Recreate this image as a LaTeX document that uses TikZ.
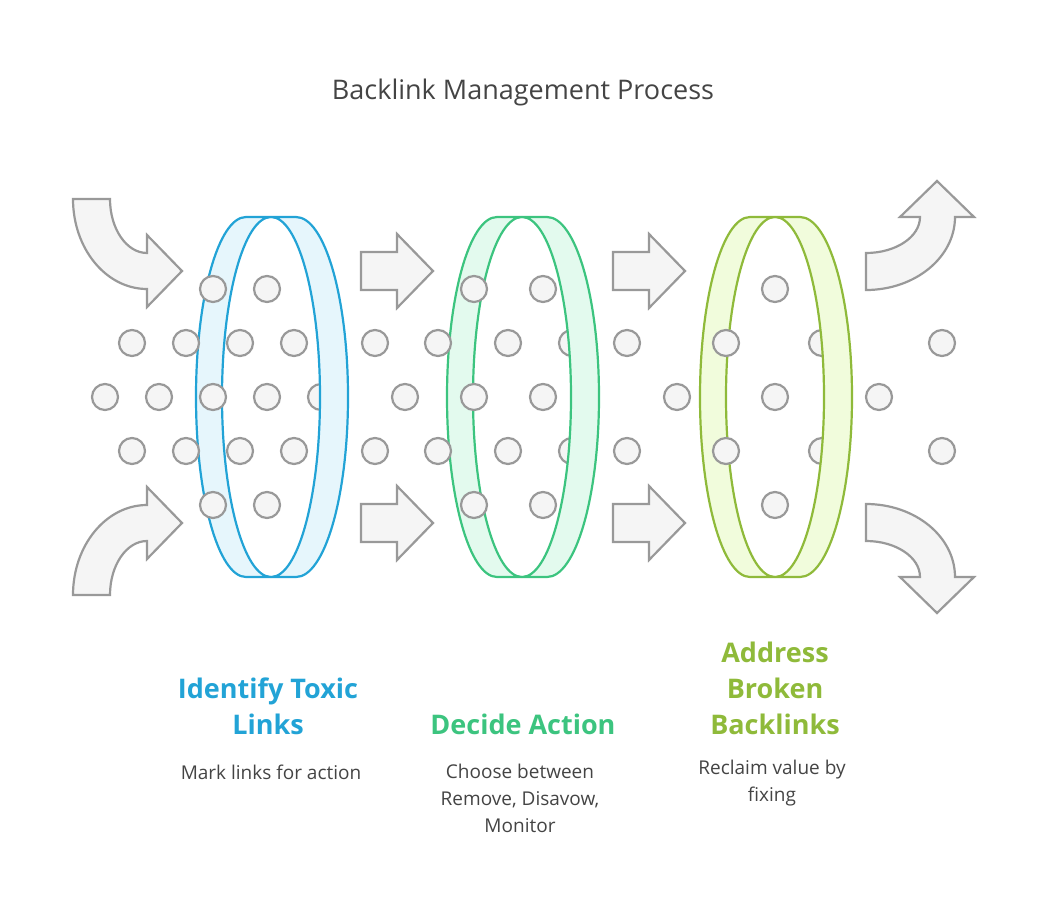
\documentclass[tikz,border=0pt]{standalone}
\usepackage{fontspec}
\setmainfont{Open Sans}
\usetikzlibrary{positioning}
\definecolor{toxicblue}{HTML}{22A3D6}
\definecolor{toxicfill}{HTML}{E6F6FC}
\definecolor{actgreen}{HTML}{3CC47F}
\definecolor{actfill}{HTML}{E3FAEE}
\definecolor{fixlime}{HTML}{8FBA3A}
\definecolor{fixfill}{HTML}{F1FCDC}
\definecolor{dotgray}{HTML}{999999}
\definecolor{dotfill}{HTML}{F5F5F5}
\definecolor{txtgray}{HTML}{444444}

% left and right halves of a ring, centre x #1
\newcommand{\ringleft}[3]{%
  \filldraw[ring,draw=#2,fill=#3] (#1-25,217) arc[start angle=270,end angle=90,x radius=50,y radius=180]
    -- (#1,577) arc[start angle=90,end angle=270,x radius=49,y radius=180] -- cycle;}
\newcommand{\ringright}[3]{%
  \filldraw[ring,draw=#2,fill=#3] (#1+25,217) arc[start angle=270,end angle=450,x radius=52,y radius=180]
    -- (#1,577) arc[start angle=90,end angle=-90,x radius=49,y radius=180] -- cycle;}

\begin{document}
\begin{tikzpicture}[x=1pt,y=-1pt,
    ring/.style={line width=2.2pt},
    dot/.style={draw=dotgray,fill=dotfill,line width=2.2pt},
    flow/.style={draw=dotgray,fill=dotfill,line width=2.2pt,line join=miter},
    head/.style={font=\fontsize{27}{36}\selectfont\bfseries,align=center},
    note/.style={font=\fontsize{19}{27}\selectfont,text=txtgray,align=center}]
  \useasboundingbox (0,0) rectangle (1047,921);

  \node[font=\fontsize{27}{32}\selectfont,text=txtgray] (title) at (523,92) {Backlink Management Process};

  % incoming arrows
  \filldraw[flow] (73,199) arc[start angle=180,end angle=90,x radius=74,y radius=90]
    -- (147,307) -- (182,271) -- (147,235) -- (147,253)
    arc[start angle=90,end angle=180,x radius=37,y radius=54] -- cycle;
  \filldraw[flow] (73,595) arc[start angle=180,end angle=270,x radius=74,y radius=90]
    -- (147,487) -- (182,523) -- (147,559) -- (147,541)
    arc[start angle=270,end angle=180,x radius=37,y radius=54] -- cycle;

  % straight arrows between rings
  \foreach \ax in {361,613}
    \foreach \ay in {271,523}
      \filldraw[flow] (\ax,\ay-19) -- (\ax+36,\ay-19) -- (\ax+36,\ay-37) -- (\ax+72,\ay)
        -- (\ax+36,\ay+37) -- (\ax+36,\ay+19) -- (\ax,\ay+19) -- cycle;

  % outgoing arrows
  \filldraw[flow] (866,290) arc[start angle=90,end angle=0,x radius=89,y radius=73]
    -- (974,217) -- (937,181) -- (900,217) -- (920,217)
    arc[start angle=0,end angle=90,x radius=54,y radius=36] -- cycle;
  \filldraw[flow] (866,504) arc[start angle=270,end angle=360,x radius=89,y radius=73]
    -- (974,577) -- (937,613) -- (900,577) -- (920,577)
    arc[start angle=360,end angle=270,x radius=54,y radius=36] -- cycle;

  \ringleft{271}{toxicblue}{toxicfill}
  \ringleft{522}{actgreen}{actfill}
  \ringleft{775}{fixlime}{fixfill}

  % dots
  \foreach \dx/\dy in {213/289,267/289,132/343,186/343,240/343,294/343,105/397,159/397,213/397,267/397,321/397,
      132/451,186/451,240/451,294/451,213/505,267/505,
      474/289,543/289,375/343,438/343,508/343,572/343,627/343,405/397,474/397,543/397,
      375/451,438/451,508/451,572/451,627/451,474/505,543/505,
      775/289,726/343,822/343,942/343,677/397,775/397,879/397,726/451,822/451,942/451,775/505}
    \filldraw[dot] (\dx,\dy) circle[radius=13];

  \ringright{271}{toxicblue}{toxicfill}
  \ringright{522}{actgreen}{actfill}
  \ringright{775}{fixlime}{fixfill}

  % labels
  \node[head,text=toxicblue,anchor=south] (identify) at (268,738) {Identify Toxic\\Links};
  \node[head,text=actgreen,anchor=south] (decide) at (523,738) {Decide Action};
  \node[head,text=fixlime,anchor=south] (address) at (775,738) {Address\\Broken\\Backlinks};
  \node[note,anchor=north] (mark) at (271,761) {Mark links for action};
  \node[note,anchor=north] (choose) at (520,761) {Choose between\\Remove, Disavow,\\Monitor};
  \node[note,anchor=north] (reclaim) at (772,757) {Reclaim value by\\fixing};
\end{tikzpicture}
\end{document}
